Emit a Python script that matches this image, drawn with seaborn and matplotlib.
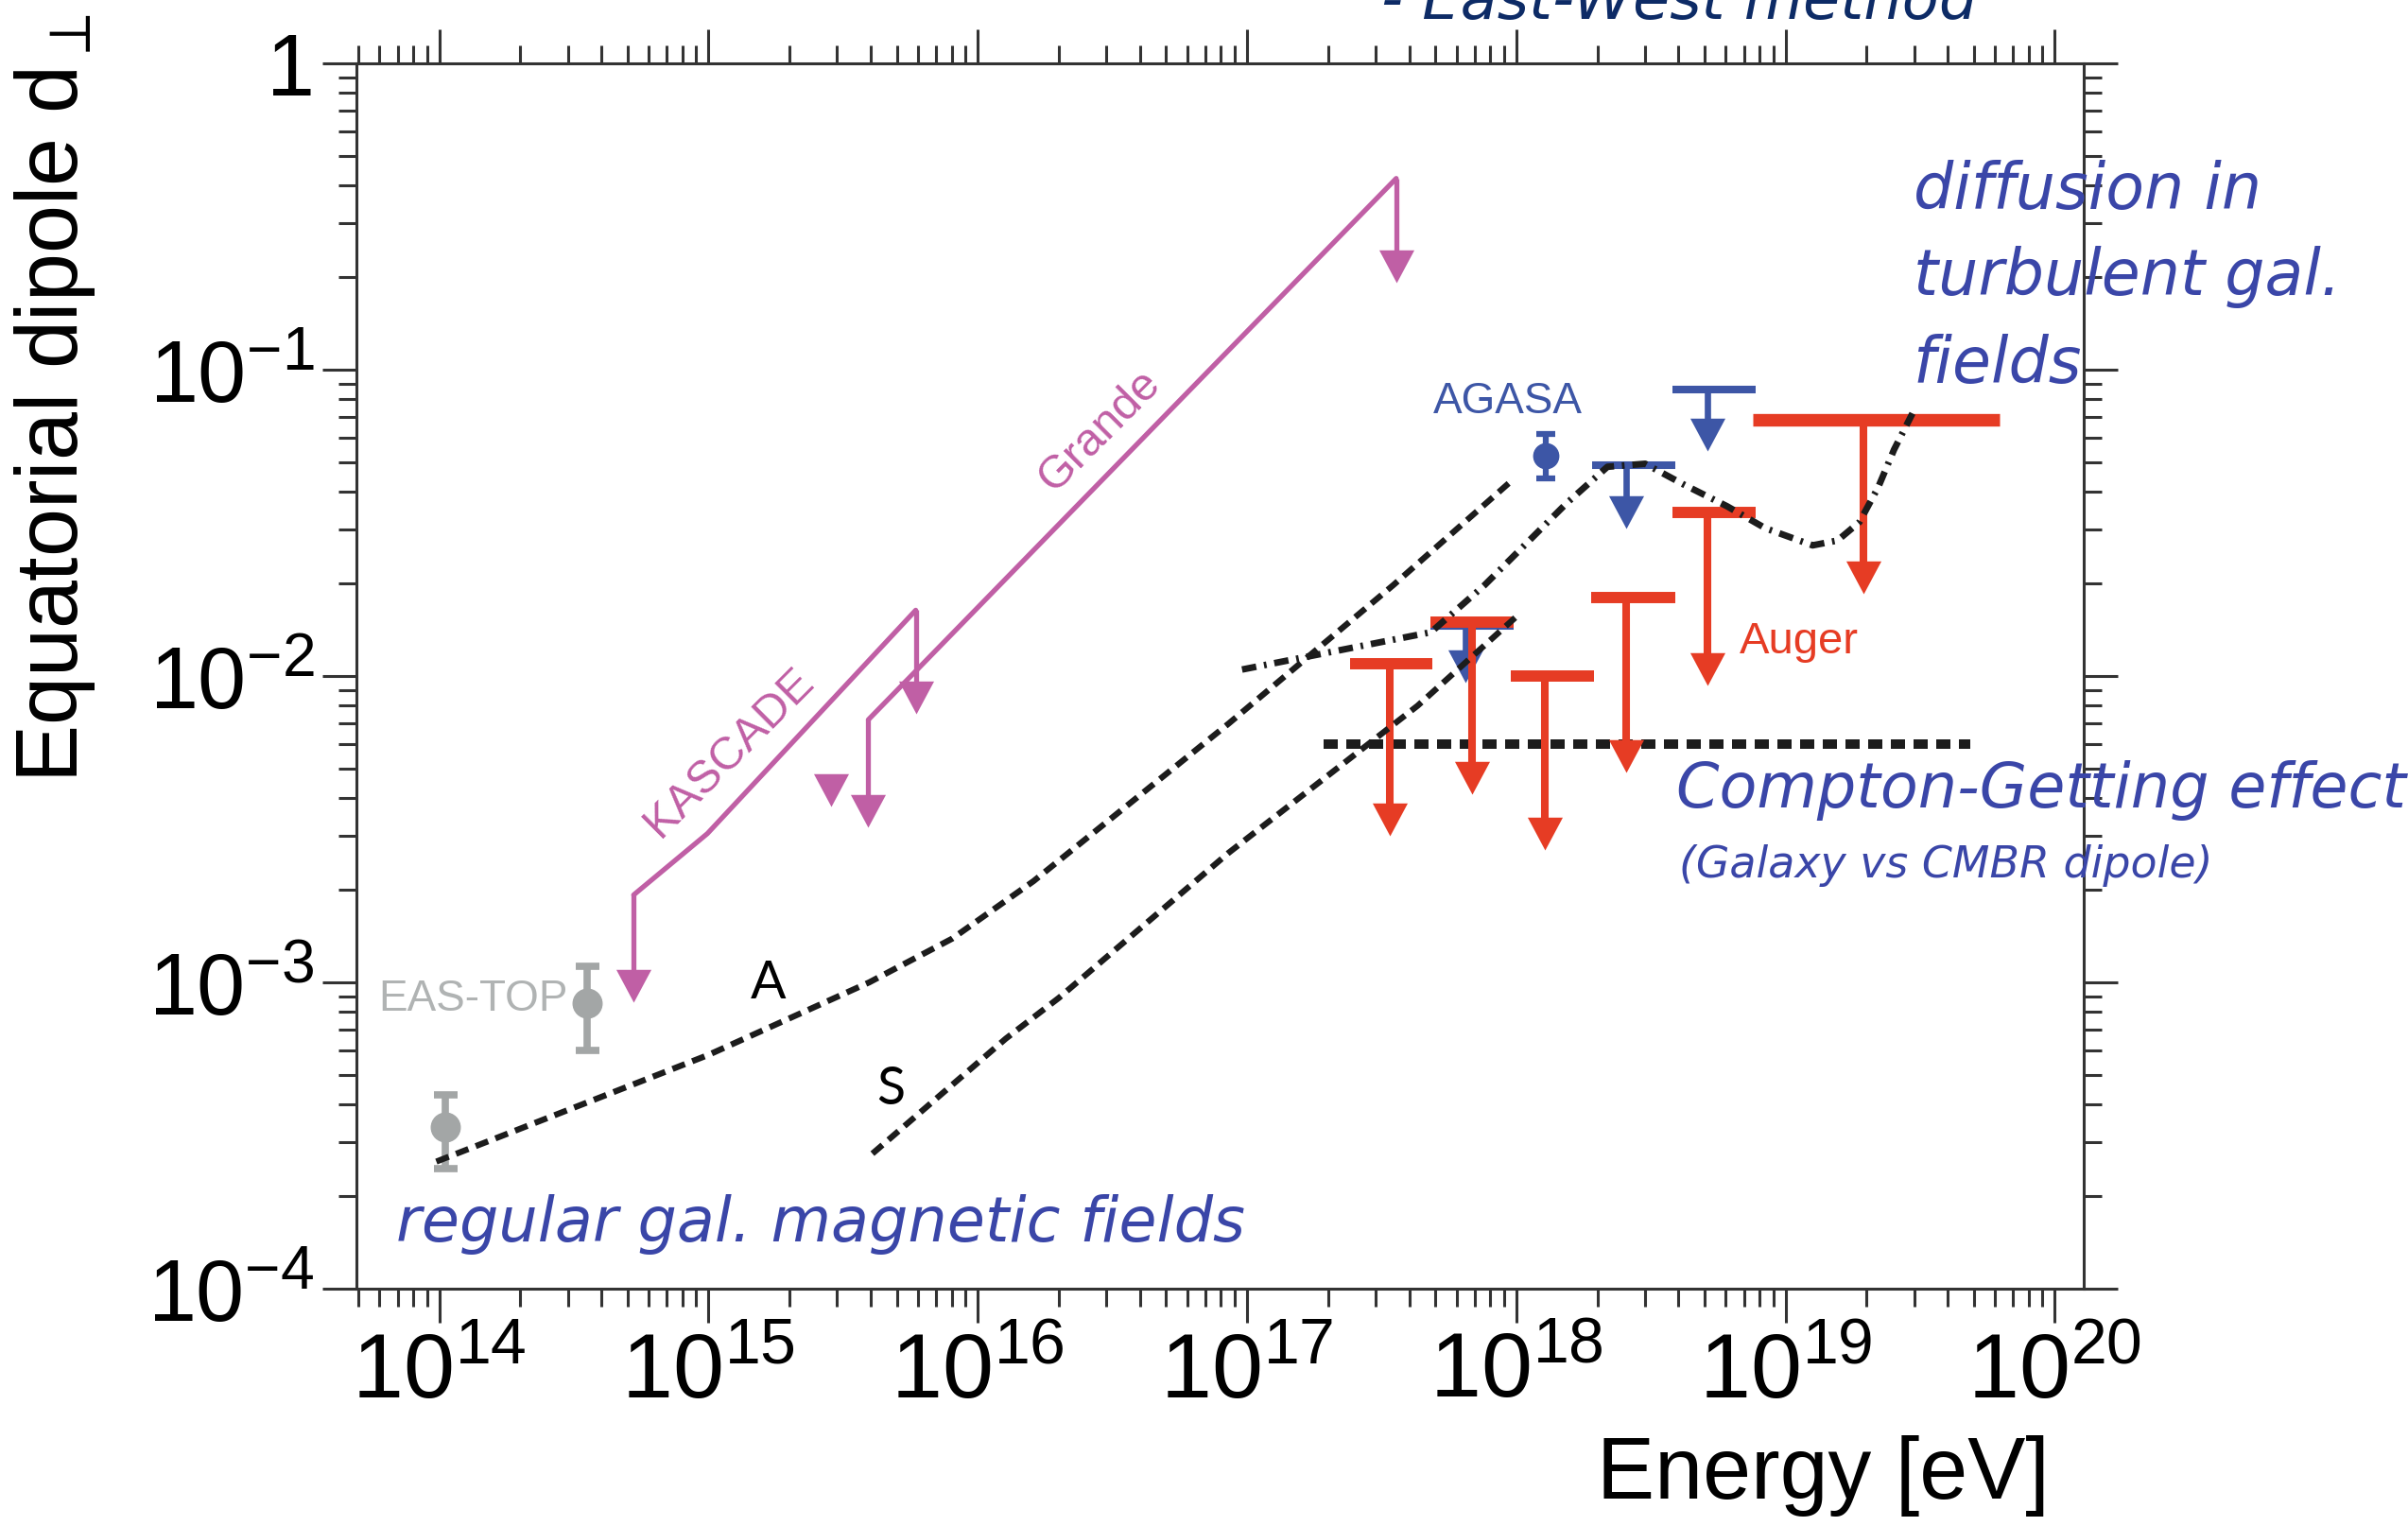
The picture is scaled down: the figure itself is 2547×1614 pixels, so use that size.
import matplotlib
matplotlib.use("Agg")
import matplotlib.pyplot as plt
from matplotlib.ticker import LogLocator, NullFormatter
import seaborn as sns

# energies in eV, dipole amplitudes

# model predictions (black lines)
model_a_energy = [9.75e13, 1.0e15, 3.95e15, 8.04e15, 1.61e16, 8.55e16, 3.49e17, 9.46e17]
model_a_dipole = [2.6e-4, 5.8e-4, 1.0e-3, 1.39e-3, 2.14e-3, 7.0e-3, 1.98e-2, 4.29e-2]
model_s_energy = [4.06e15, 1.27e16, 2.0e16, 8.55e16, 4.3e17, 9.9e17]
model_s_dipole = [2.76e-4, 6.55e-4, 8.9e-4, 2.65e-3, 8.0e-3, 1.55e-2]
diffusion_energy = [9.58e16, 4.82e17, 7.62e17, 1.54e18, 2.18e18, 3.01e18, 4.16e18, 6.07e18,
                    8.39e18, 1.26e19, 1.56e19, 1.88e19, 2.21e19, 2.53e19, 2.96e19]
diffusion_dipole = [1.05e-2, 1.39e-2, 1.98e-2, 3.67e-2, 4.82e-2, 4.93e-2, 4.23e-2, 3.58e-2,
                    3.04e-2, 2.67e-2, 2.77e-2, 3.18e-2, 4.14e-2, 5.49e-2, 7.2e-2]
compton_energy = [1.93e17, 4.87e19]
compton_dipole = [6.0e-3, 6.0e-3]

# KASCADE / KASCADE-Grande upper limits
kascade_energy = [5.27e14, 9.9e14, 5.88e15]
kascade_dipole = [1.93e-3, 3.06e-3, 1.64e-2]
kascade_tip = [8.6e-4, 7.5e-3]          # arrows hanging from first and last point
grande_energy = [3.92e15, 3.58e17]
grande_dipole = [7.2e-3, 0.421]
grande_tip = [3.2e-3, 0.192]
kascade_extra_energy = [2.86e15]
kascade_extra_tip = [3.74e-3]

# EAS-TOP measurements
eastop_energy = [1.05e14, 3.53e14]
eastop_dipole = [3.36e-4, 8.55e-4]
eastop_low = [2.46e-4, 5.98e-4]
eastop_high = [4.28e-4, 1.13e-3]

# AGASA
agasa_energy = [1.29e18]
agasa_dipole = [5.24e-2]
agasa_low = [4.42e-2]
agasa_high = [6.18e-2]
agasa_ul_lo = [4.81e17, 1.91e18, 3.80e18]
agasa_ul_hi = [9.77e17, 3.90e18, 7.76e18]
agasa_ul_stem = [6.45e17, 2.56e18, 5.14e18]
agasa_ul_top = [1.46e-2, 4.88e-2, 8.61e-2]
agasa_ul_tip = [9.5e-3, 3.04e-2, 5.42e-2]

# Auger upper limits
auger_lo = [2.41e17, 4.81e17, 9.57e17, 1.90e18, 3.81e18, 7.53e18]
auger_hi = [4.89e17, 9.77e17, 1.95e18, 3.89e18, 7.74e18, 6.25e19]
auger_stem = [3.40e17, 6.84e17, 1.28e18, 2.56e18, 5.14e18, 1.94e19]
auger_top = [1.10e-2, 1.50e-2, 1.00e-2, 1.80e-2, 3.43e-2, 6.84e-2]
auger_tip = [3.0e-3, 4.1e-3, 2.7e-3, 4.85e-3, 9.3e-3, 1.86e-2]

x_ticks = [1e14, 1e15, 1e16, 1e17, 1e18, 1e19, 1e20]
x_tick_labels = [r"$\mathregular{10^{%d}}$" % p for p in range(14, 21)]
y_ticks = [1e-4, 1e-3, 1e-2, 1e-1, 1]
y_tick_labels = [r"$\mathregular{10^{-4}}$", r"$\mathregular{10^{-3}}$",
                 r"$\mathregular{10^{-2}}$", r"$\mathregular{10^{-1}}$", "1"]

MAGENTA = "#c05fa5"
RED = "#e63c24"
BLUE = "#3d56a6"
GREY = "#a3a6a6"
HAND = "#3a46a8"
INK = "#1c1c1c"

# arrow head: triangle with its tip at the data point
HEAD = [(-16, 30), (16, 30), (0, 0), (-16, 30)]
HEAD_MS = 50

sns.set_theme(style="ticks")
plt.rcParams["font.family"] = ["Liberation Sans", "DejaVu Sans"]
plt.rcParams["mathtext.fontset"] = "custom"
plt.rcParams["mathtext.rm"] = "Liberation Sans"
plt.rcParams["mathtext.it"] = "Liberation Sans:italic"
plt.rcParams["mathtext.bf"] = "Liberation Sans:bold"

fig = plt.figure(figsize=(25.47, 16.15), dpi=100)
ax = fig.add_axes([0.1480, 0.1554, 0.7173, 0.8025])
ax.set_xscale("log")
ax.set_yscale("log")


def down_arrow(e, top, tip, color, lw, z=3):
    ax.plot([e, e], [top, tip * 1.15], color=color, lw=lw, solid_capstyle="butt", zorder=z)
    ax.plot([e], [tip], marker=HEAD, ms=HEAD_MS, color=color, mew=0, ls="none", zorder=z)


def upper_limit(lo, hi, stem, top, tip, color, bar_lw, stem_lw, z=3):
    ax.plot([lo, hi], [top, top], color=color, lw=bar_lw, solid_capstyle="butt", zorder=z)
    down_arrow(stem, top, tip, color, stem_lw, z)


# Compton-Getting level
ax.plot(compton_energy, compton_dipole, color=INK, lw=7.2, linestyle=(0, (1.5, 0.9)), zorder=2)

# AGASA (under Auger)
for i in range(len(agasa_ul_lo)):
    upper_limit(agasa_ul_lo[i], agasa_ul_hi[i], agasa_ul_stem[i], agasa_ul_top[i],
                agasa_ul_tip[i], BLUE, 5.8, 4.8, z=2.5)
ax.errorbar(agasa_energy, agasa_dipole,
            yerr=[[agasa_dipole[0] - agasa_low[0]], [agasa_high[0] - agasa_dipole[0]]],
            fmt="o", color=BLUE, ms=19, elinewidth=4.5, capsize=7, capthick=4.5, zorder=3)

# Auger
for i in range(len(auger_lo)):
    bw = 9.6 if i == len(auger_lo) - 1 else 8.6
    upper_limit(auger_lo[i], auger_hi[i], auger_stem[i], auger_top[i], auger_tip[i], RED, bw, 5.8)

# KASCADE / Grande
sns.lineplot(x=kascade_energy, y=kascade_dipole, ax=ax, color=MAGENTA, lw=3.8,
             sort=False, estimator=None, zorder=3)
sns.lineplot(x=grande_energy, y=grande_dipole, ax=ax, color=MAGENTA, lw=3.8,
             sort=False, estimator=None, zorder=3)
down_arrow(kascade_energy[0], kascade_dipole[0], kascade_tip[0], MAGENTA, 3.8)
down_arrow(kascade_energy[-1], kascade_dipole[-1], kascade_tip[1], MAGENTA, 3.8)
down_arrow(grande_energy[0], grande_dipole[0], grande_tip[0], MAGENTA, 3.8)
down_arrow(grande_energy[-1], grande_dipole[-1], grande_tip[1], MAGENTA, 3.8)
ax.plot(kascade_extra_energy, kascade_extra_tip, marker=HEAD, ms=HEAD_MS, color=MAGENTA,
        mew=0, ls="none", zorder=3)

# EAS-TOP
ax.errorbar(eastop_energy, eastop_dipole,
            yerr=[[d - l for d, l in zip(eastop_dipole, eastop_low)],
                  [h - d for d, h in zip(eastop_dipole, eastop_high)]],
            fmt="o", color=GREY, ms=22, elinewidth=5.5, capsize=9, capthick=5.5, zorder=3)

# model curves on top
sns.lineplot(x=model_a_energy, y=model_a_dipole, ax=ax, color=INK, lw=4.6,
             linestyle=(0, (2.2, 1.3)), sort=False, estimator=None, zorder=5)
sns.lineplot(x=model_s_energy, y=model_s_dipole, ax=ax, color=INK, lw=4.6,
             linestyle=(0, (2.2, 1.3)), sort=False, estimator=None, zorder=5)
sns.lineplot(x=diffusion_energy, y=diffusion_dipole, ax=ax, color=INK, lw=5.0,
             linestyle=(0, (2.2, 1.2, 0.4, 1.2)), sort=False, estimator=None, zorder=5)

ax.set_xlim(10 ** 13.692, 10 ** 20.107)
ax.set_ylim(1e-4, 1)
ax.set_xticks(x_ticks, labels=x_tick_labels)
ax.set_yticks(y_ticks, labels=y_tick_labels)
ax.xaxis.set_minor_locator(LogLocator(base=10, subs=range(2, 10), numticks=100))
ax.yaxis.set_minor_locator(LogLocator(base=10, subs=range(2, 10), numticks=100))
ax.xaxis.set_minor_formatter(NullFormatter())
ax.yaxis.set_minor_formatter(NullFormatter())

for s in ax.spines.values():
    s.set_visible(True)
    s.set_linewidth(2.2)
    s.set_color("#333333")
ax.tick_params(which="both", direction="out", top=True, right=True, width=2.2, color="#333333")
ax.tick_params(which="major", length=26)
ax.tick_params(which="minor", length=14)
ax.tick_params(axis="x", which="major", labelsize=70, pad=6, labelcolor="black")
ax.tick_params(axis="y", which="major", labelsize=66, pad=6, labelcolor="black")
ax.grid(False)

ax.set_xlabel("Energy [eV]", fontsize=66, ha="right", color="black")
ax.xaxis.set_label_coords(0.98, -0.119)
ax.set_ylabel(r"Equatorial dipole d$_{\perp}$", fontsize=66, ha="left", color="black")
ax.yaxis.set_label_coords(-0.150, 0.4135)

# experiment labels
ax.text(3.0e14, 8.86e-4, "EAS-TOP", color="#b0b3b3", fontsize=33, ha="right", va="center")
ax.text(1.19e15, 5.65e-3, "KASCADE", color=MAGENTA, fontsize=35, rotation=45,
        ha="center", va="center")
ax.text(2.84e16, 6.34e-2, "Grande", color=MAGENTA, fontsize=35, rotation=45,
        ha="center", va="center")
ax.text(9.33e17, 7.89e-2, "AGASA", color=BLUE, fontsize=33, ha="center", va="center")
ax.text(1.12e19, 1.30e-2, "Auger", color=RED, fontsize=34, ha="center", va="center")
ax.text(1.66e15, 1.0e-3, "A", color="black", fontsize=40, family="Lato", ha="center", va="center")
ax.text(4.75e15, 4.49e-4, "S", color="black", fontsize=40, family="Lato", ha="center", va="center")

# handwritten-style notes on the slide
hand = dict(color=HAND, family="DejaVu Sans", style="oblique", va="baseline")
fig.text(0.7946, 0.8632, "diffusion in", fontsize=48, **hand)
fig.text(0.7946, 0.8068, "turbulent gal.", fontsize=48, **hand)
fig.text(0.7946, 0.7495, "fields", fontsize=48, **hand)
fig.text(0.6961, 0.4711, "Compton-Getting effect", fontsize=47, **hand)
fig.text(0.6971, 0.4256, "(Galaxy vs CMBR dipole)", fontsize=33, **hand)
fig.text(0.1645, 0.1871, "regular gal. magnetic fields", fontsize=47, **hand)
fig.text(1461 / 2547, 1 - 20 / 1615, "- East-West method", fontsize=46, color="#0d2b66",
         family="DejaVu Sans", style="oblique", va="baseline")

fig.savefig("out.png", dpi=100, facecolor="white")
